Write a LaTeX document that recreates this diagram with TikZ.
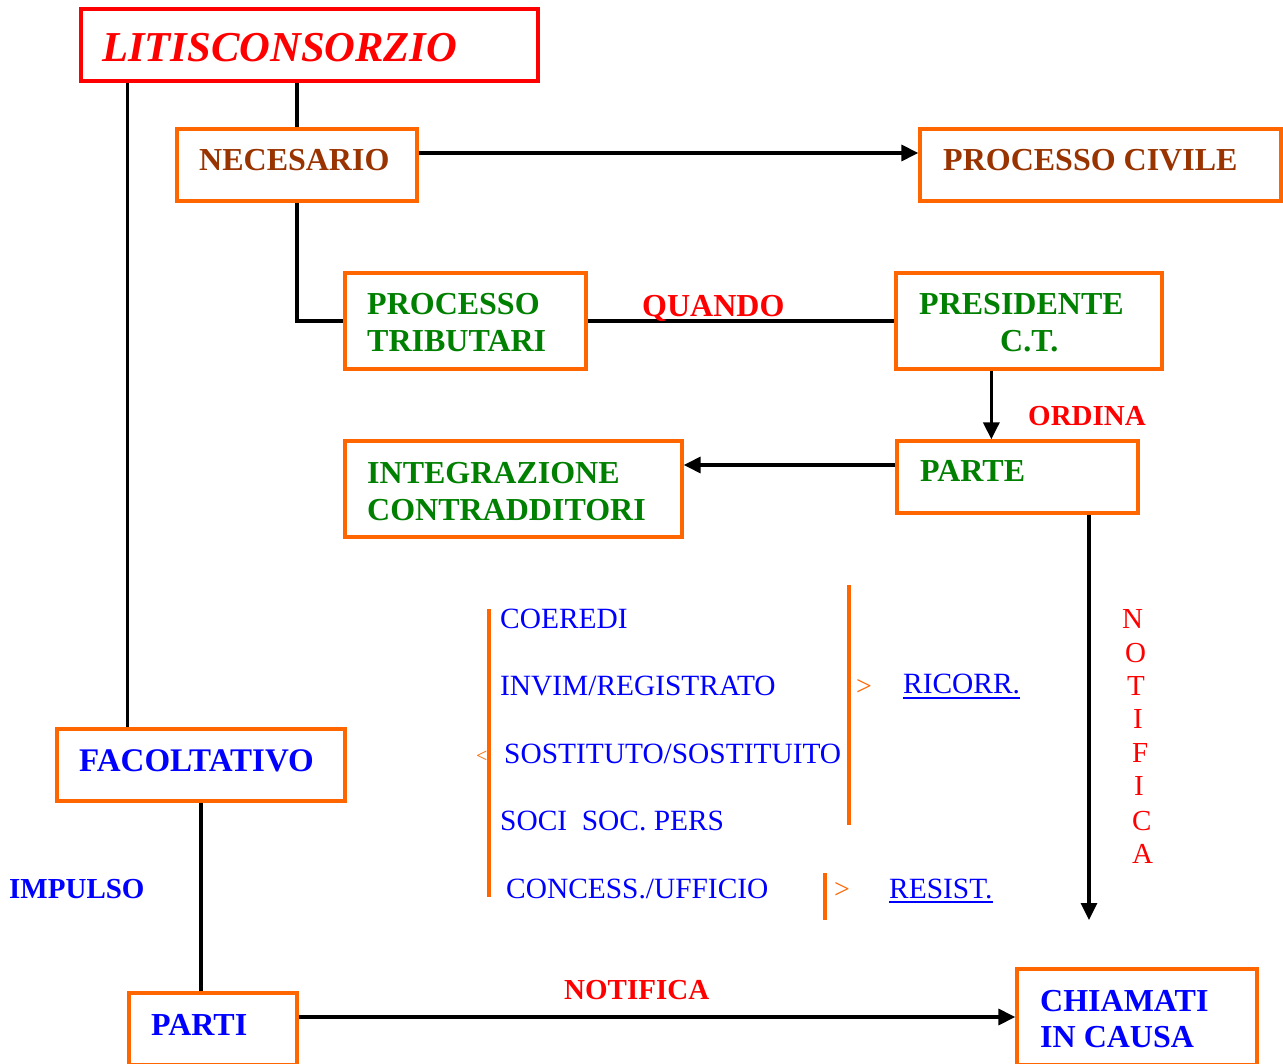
\documentclass[tikz,border=0pt]{standalone}
\usepackage{fontspec}
\setmainfont{Liberation Serif}
\usetikzlibrary{arrows.meta}
\definecolor{frameorange}{HTML}{FF6600}
\definecolor{headred}{HTML}{FF0000}
\definecolor{darkbrown}{HTML}{993300}
\definecolor{leafgreen}{HTML}{008000}
\definecolor{pureblue}{HTML}{0000FF}
\begin{document}
\begin{tikzpicture}[x=1pt,y=-1pt,
  frame/.style={draw=frameorange, line width=3.3pt, rectangle, inner sep=0pt},
  conn/.style={draw=black, line width=3.3pt},
  arr/.style={conn, -{Triangle[length=17pt,width=16pt]}},
  txt/.style={inner sep=0pt, anchor=base west},
  boxbig/.style={txt, font=\fontsize{32}{37}\selectfont\bfseries},
  lbl/.style={txt, font=\fontsize{29}{34}\selectfont\bfseries, text=headred},
  item/.style={txt, font=\fontsize{29.4}{34}\selectfont, text=pureblue},
  vletter/.style={txt, font=\fontsize{29}{34}\selectfont, text=headred},
  bar/.style={draw=frameorange, line width=4pt}
]
\clip (0,0) rectangle (1283,1064);
\fill[white] (0,0) rectangle (1283,1064);

% boxes
\node[frame, draw=headred, minimum width=457pt, minimum height=72pt] (lit) at (309.5,45) {};
\node[frame, minimum width=240pt, minimum height=72pt] (nec) at (297,165) {};
\node[frame, minimum width=361pt, minimum height=72pt] (pc) at (1100.5,165) {};
\node[frame, minimum width=241pt, minimum height=96pt] (pt) at (465.5,321) {};
\node[frame, minimum width=266pt, minimum height=96pt] (pres) at (1029,321) {};
\node[frame, minimum width=337pt, minimum height=96pt] (integ) at (513.5,489) {};
\node[frame, minimum width=241pt, minimum height=72pt] (parte) at (1017.5,477) {};
\node[frame, minimum width=288pt, minimum height=72pt] (fac) at (201,765) {};
\node[frame, minimum width=168pt, minimum height=72pt] (parti) at (213,1029) {};
\node[frame, minimum width=240pt, minimum height=96pt] (chiam) at (1137,1017) {};

% box texts
\node[txt, font=\fontsize{42.6}{48}\selectfont\bfseries\itshape, text=headred] (lit-t) at (102,62) {LITISCONSORZIO};
\node[boxbig, text=darkbrown] (nec-t) at (199,171) {NECESARIO};
\node[boxbig, text=darkbrown] (pc-t) at (943,171) {PROCESSO CIVILE};
\node[boxbig, text=leafgreen] (pt-t1) at (367,315) {PROCESSO};
\node[boxbig, text=leafgreen] (pt-t2) at (367,352) {TRIBUTARI};
\node[boxbig, text=leafgreen] (pres-t1) at (919,315) {PRESIDENTE};
\node[boxbig, text=leafgreen] (pres-t2) at (1000,352) {C.T.};
\node[boxbig, text=leafgreen] (integ-t1) at (367,483) {INTEGRAZIONE};
\node[boxbig, text=leafgreen] (integ-t2) at (367,520) {CONTRADDITORI};
\node[boxbig, text=leafgreen] (parte-t) at (920,482) {PARTE};
\node[boxbig, text=pureblue, font=\fontsize{33}{37}\selectfont\bfseries] (fac-t) at (79,771) {FACOLTATIVO};
\node[boxbig, text=pureblue] (parti-t) at (151,1035) {PARTI};
\node[boxbig, text=pureblue] (chiam-t1) at (1040,1011) {CHIAMATI};
\node[boxbig, text=pureblue] (chiam-t2) at (1040,1047) {IN CAUSA};

% connectors
\draw[conn] ([xshift=48pt]lit.south west) -- ([xshift=72pt]fac.north west);
\draw[conn] (nec.north |- lit.south) -- (nec.north);
\draw[conn] (nec.south) |- (pt.west);
\draw[arr] ([yshift=12pt]nec.east) -- ([yshift=12pt]nec.east -| pc.west);
\draw[conn] (pt.east) -- (pres.west);
\draw[arr] ([xshift=97pt]pres.south west) -- ([xshift=97pt]pres.south west |- parte.north);
\draw[arr] ([yshift=12pt]parte.west) -- ([yshift=12pt]parte.west -| integ.east);
\coordinate (nend) at (1089,920);
\draw[arr] (parte.south -| nend) -- (nend);
\draw[conn] (fac.south) -- (fac.south |- parti.north);
\draw[arr] ([yshift=12pt]parti.east) -- ([yshift=12pt]parti.east -| chiam.west);

% connector labels
\node[txt, font=\fontsize{32}{37}\selectfont\bfseries, text=headred] (quando) at (642,317) {QUANDO};
\node[lbl] (ordina) at (1028,426) {ORDINA};
\node[lbl] (notif) at (564,999) {NOTIFICA};
\node[lbl, text=pureblue] (impulso) at (9,898) {IMPULSO};

% vertical label beside the notification arrow
\node[vletter] (v1) at (1122,628) {N};
\node[vletter] (v2) at (1125,662) {O};
\node[vletter] (v3) at (1127,695) {T};
\node[vletter] (v4) at (1133,728) {I};
\node[vletter] (v5) at (1132,762) {F};
\node[vletter] (v6) at (1134,795) {I};
\node[vletter] (v7) at (1132,830) {C};
\node[vletter] (v8) at (1132,863) {A};

% list of cases with brackets
\draw[bar] (489,609) -- (489,897);
\draw[bar] (849,585) -- (849,825);
\draw[bar] (825,873) -- (825,920);
\node[item] (c1) at (500,628) {COEREDI};
\node[item] (c2) at (500,695) {INVIM/REGISTRATO};
\node[item] (c3) at (504,763) {SOSTITUTO/SOSTITUITO};
\node[item] (c4) at (500,830) {SOCI\hspace{0.5em}SOC. PERS};
\node[item] (c5) at (506,898) {CONCESS./UFFICIO};
\node[txt, font=\fontsize{20}{24}\selectfont, text=frameorange] (lt) at (476,762) {<};
\node[txt, font=\fontsize{28}{32}\selectfont, text=frameorange] (gt1) at (856,695) {>};
\node[txt, font=\fontsize{28}{32}\selectfont, text=frameorange] (gt2) at (834,898) {>};
\node[item] (ricorr) at (903,693) {RICORR.};
\node[item] (resist) at (889,898) {RESIST.};
\draw[pureblue, line width=1.6pt] ([yshift=-5pt]ricorr.base west) -- ([yshift=-5pt]ricorr.base east);
\draw[pureblue, line width=1.6pt] ([yshift=-4pt]resist.base west) -- ([yshift=-4pt]resist.base east);
\end{tikzpicture}
\end{document}
